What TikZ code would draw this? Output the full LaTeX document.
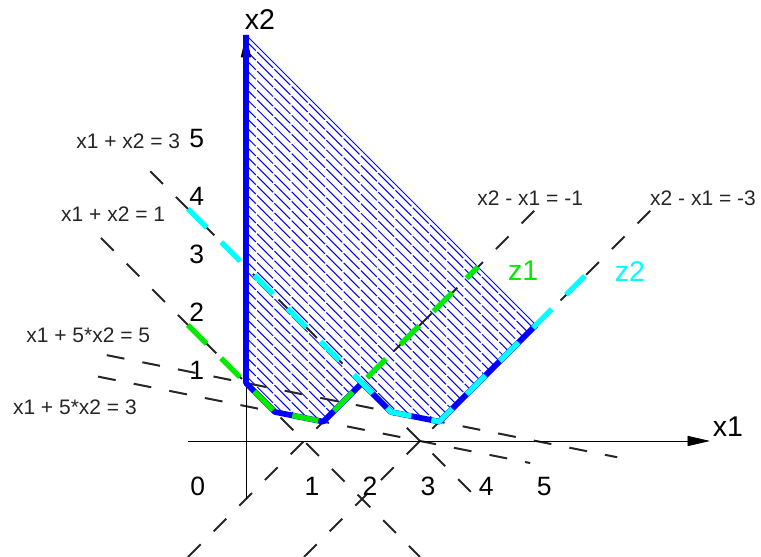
\documentclass[tikz,border=0pt]{standalone}
\usepackage{fontspec}
\setmainfont{Liberation Sans}
\usetikzlibrary{arrows.meta}
\definecolor{zgreen}{RGB}{0,235,0}
\definecolor{zcyan}{RGB}{0,255,255}

\begin{document}
\begin{tikzpicture}[
    eqlabel/.style={font=\fontsize{10.3}{12}\selectfont, text=black!85},
    ticklabel/.style={font=\fontsize{13}{15}\selectfont},
    axislabel/.style={font=\fontsize{14}{16}\selectfont},
    constraint/.style={black!85, line width=1pt, dash pattern=on 8.8pt off 9pt},
    objline/.style={line width=2.6pt, dash pattern=on 13pt off 10pt},
    hatch/.style={blue, line width=0.5pt, dash pattern=on 11pt off 1pt},
    border/.style={blue, line width=2.8pt, line join=round}
]
\useasboundingbox (-4.241,-1.983) rectangle (8.879,7.603);

% Corners of the union of both regions
\coordinate (top) at (0,7);
\coordinate (a) at (0,1);
\coordinate (b) at (0.5,0.5);
\coordinate (c) at (4/3,1/3);
\coordinate (d) at (2,1);
\coordinate (e) at (2.5,0.5);
\coordinate (f) at (10/3,1/3);
\coordinate (g) at (5,2);

% Hatched region
\begin{scope}
    \clip (top) -- (a) -- (b) -- (c) -- (d) -- (e) -- (f) -- (g) -- cycle;
    \foreach \c in {0.3,0.465,...,7.2}
        \draw[hatch] (-1,\c+1) -- (\c+1,-1);
\end{scope}
\draw[blue, line width=0.5pt] (g) -- (top);

% Constraint lines
\draw[constraint] (-1.65,4.65) -- (4,-1);       % x1 + x2 = 3
\draw[constraint] (-2.5,3.5) -- (3,-2);         % x1 + x2 = 1
\draw[constraint] (-1,-2) -- (5,4);             % x2 - x1 = -1
\draw[constraint] (1,-2) -- (7,4);              % x2 - x1 = -3
\draw[constraint] (-2.4,1.48) -- (6.4,-0.28);   % x1 + 5*x2 = 5
\draw[constraint] (-2.55,1.11) -- (4.9,-0.38);  % x1 + 5*x2 = 3

% Axes
\draw[-{Triangle[length=11pt,width=5pt]}] (-1,0) -- (8,0);
\draw[-{Triangle[length=11pt,width=5pt]}] (0,-1) -- (top);

% Boundary of the region
\draw[border] (top) -- (a) -- (b) -- (c) -- (d) -- (e) -- (f) -- (g);

% Boundaries of z1 and z2
\draw[objline, zgreen] (-1,2) -- (a) -- (b) -- (c) -- (4,3);
\draw[objline, zcyan] (-1,4) -- (e) -- (f) -- (6,3);

% Labels
\node[eqlabel] (l1) at (-2.03,5.16) {x1 + x2 = 3};
\node[eqlabel] (l2) at (-2.29,3.91) {x1 + x2 = 1};
\node[eqlabel] (l3) at (-2.72,1.83) {x1 + 5*x2 = 5};
\node[eqlabel] (l4) at (-2.95,0.59) {x1 + 5*x2 = 3};
\node[eqlabel] (l5) at (4.90,4.19) {x2 - x1 = -1};
\node[eqlabel] (l6) at (7.88,4.19) {x2 - x1 = -3};
\node[axislabel, text=zgreen] (z1) at (4.78,2.93) {z1};
\node[axislabel, text=zcyan] (z2) at (6.62,2.93) {z2};
\node[axislabel] (x1) at (8.31,0.24) {x1};
\node[axislabel] (x2) at (0.24,7.26) {x2};

% Tick labels
\node[ticklabel] (t0) at (-0.83,-0.78) {0};
\foreach \k in {1,...,5} {
    \node[ticklabel] (tx\k) at (\k+0.14,-0.78) {\k};
    \node[ticklabel] (ty\k) at (-0.85,\k+0.22) {\k};
}

\end{tikzpicture}
\end{document}
